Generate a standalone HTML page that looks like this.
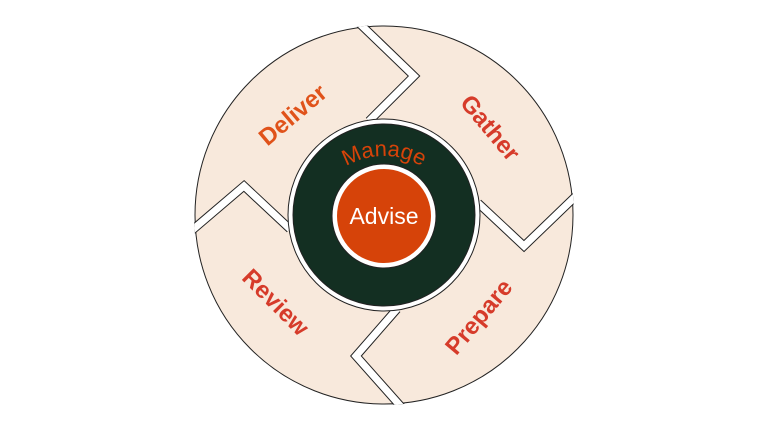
<!DOCTYPE html>
<html><head><meta charset="utf-8"><style>
html,body{margin:0;padding:0;background:#fff;}
svg{display:block;}
text{font-family:"Liberation Sans",Arial,sans-serif;}
</style></head><body>
<svg width="768" height="432" viewBox="0 0 768 432" xmlns="http://www.w3.org/2000/svg">
<defs>
<clipPath id="c"><circle cx="384" cy="215" r="190"/></clipPath>
<path id="arc" d="M 314 206 A 74 74 0 0 1 454 206"/>
</defs>
<circle cx="384" cy="215" r="189" fill="#f8e9dc" stroke="#222" stroke-width="1"/>
<g clip-path="url(#c)" fill="none" stroke-linejoin="miter">
<g stroke="#222" stroke-width="9">
<polyline points="358,22 414,76 369,121"/>
<polyline points="478,203 524,246 578,194"/>
<polyline points="397,309 356,356 404,410"/>
<polyline points="190,232 244,186 290,229"/>
</g>
<g stroke="#fff" stroke-width="7">
<polyline points="358,22 414,76 369,121"/>
<polyline points="478,203 524,246 578,194"/>
<polyline points="397,309 356,356 404,410"/>
<polyline points="190,232 244,186 290,229"/>
</g>
</g>
<circle cx="384" cy="215" r="96" fill="#fff" stroke="#222" stroke-width="1"/>
<circle cx="384" cy="215" r="91" fill="#132f22" stroke="#222" stroke-width="1"/>
<circle cx="384" cy="216" r="52" fill="#fff" stroke="#222" stroke-width="1"/>
<circle cx="384" cy="216" r="47" fill="#d64309"/>
<text x="384" y="224" font-size="23" fill="#fff" text-anchor="middle">Advise</text>
<text font-size="22" fill="#d64309"><textPath href="#arc" startOffset="50%" text-anchor="middle">Manage</textPath></text>
<g font-size="24" font-weight="bold" text-anchor="middle">
<text transform="translate(298,121) rotate(-40)" fill="#e0521a">Deliver</text>
<text transform="translate(484,133) rotate(50)" fill="#d63b2a">Gather</text>
<text transform="translate(485,322) rotate(-50)" fill="#d63b2a">Prepare</text>
<text transform="translate(270,308) rotate(45)" fill="#d63b2a">Review</text>
</g>
</svg>
</body></html>
